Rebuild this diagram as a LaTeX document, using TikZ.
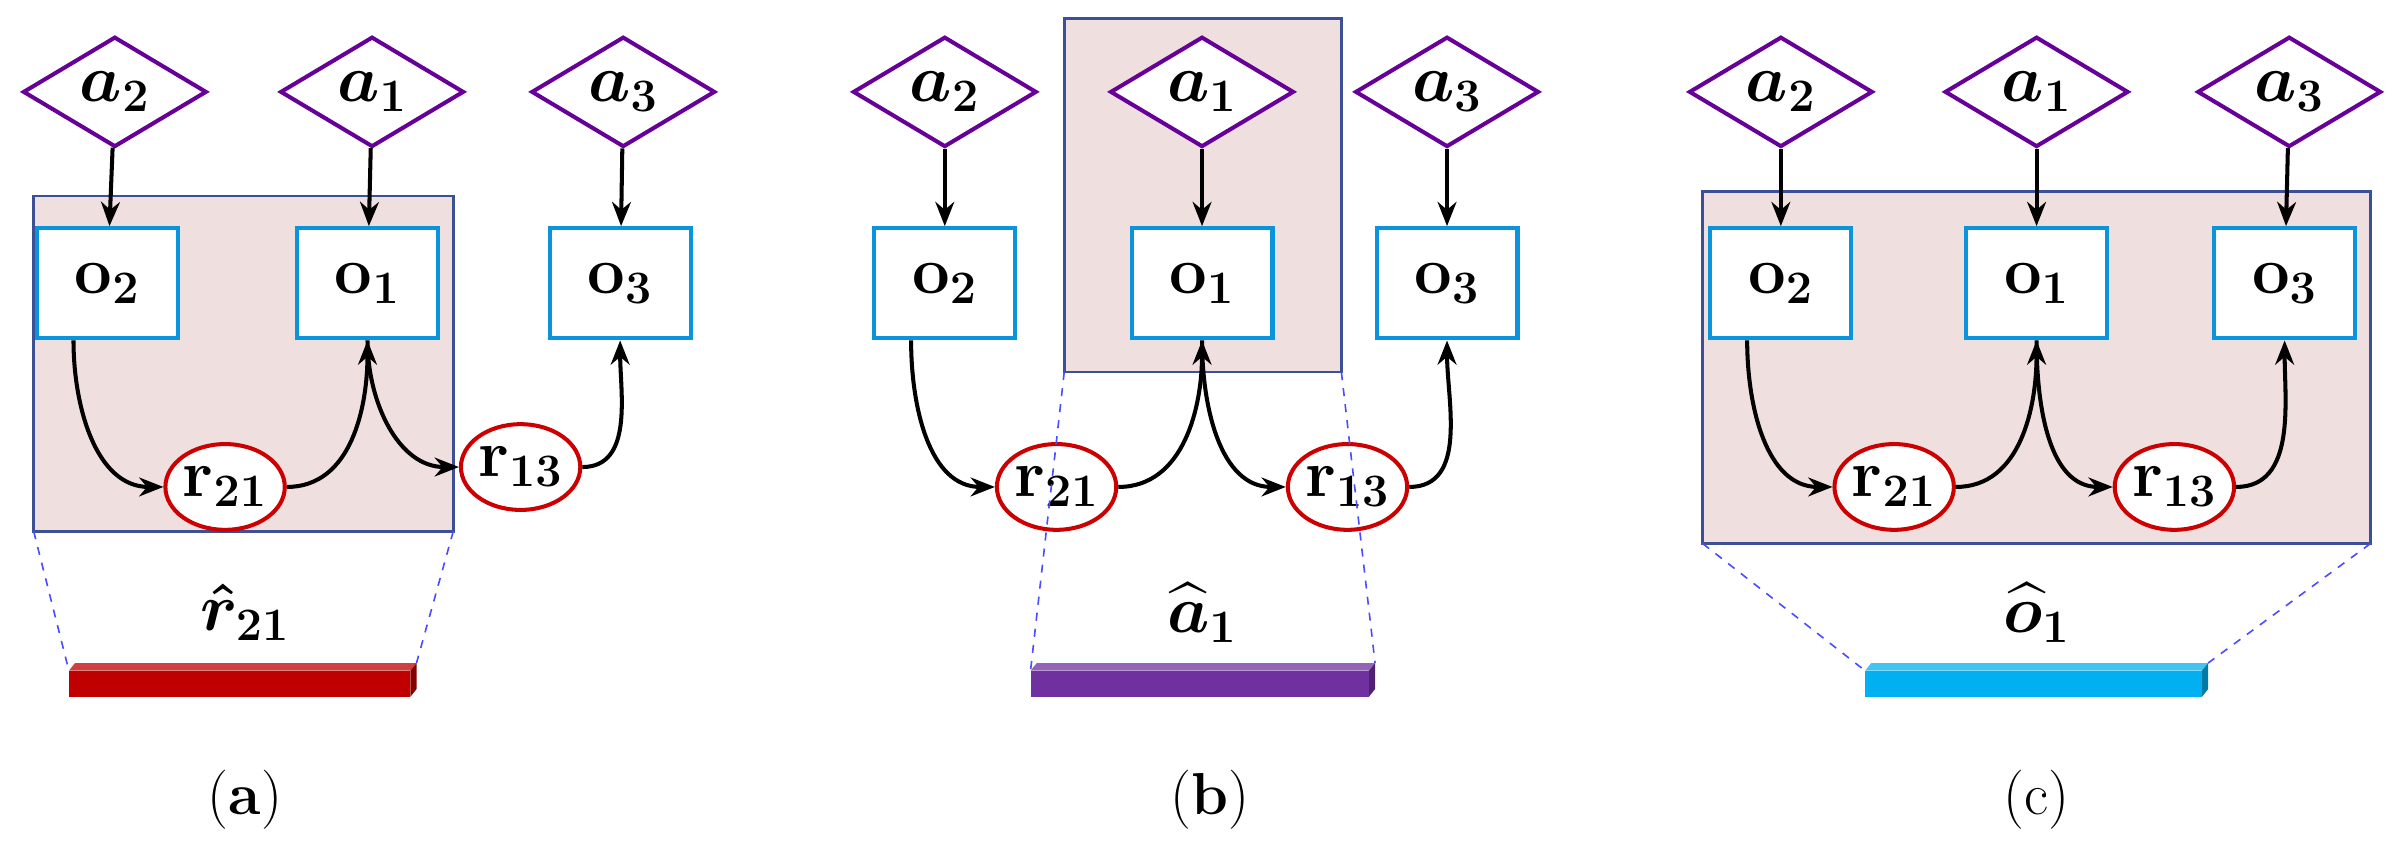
\documentclass[tikz,border=0pt]{standalone}
\usepackage{amsmath,bm}
\usetikzlibrary{shapes.geometric,arrows.meta}
\begin{document}
\begin{tikzpicture}[x=0.02cm,y=-0.02cm,
  big/.style={font=\fontsize{24}{28}\selectfont},
  dia/.style={diamond,draw=violet!80!blue,line width=1.5pt,fill=white,minimum width=120*0.02cm,minimum height=72*0.02cm,inner sep=0pt,aspect=1.7,big},
  box/.style={rectangle,draw=cyan!80!blue,line width=1.5pt,fill=white,minimum width=92*0.02cm,minimum height=72*0.02cm,big},
  ell/.style={ellipse,draw=red!80!black,line width=1.5pt,fill=white,minimum width=76*0.02cm,minimum height=56*0.02cm,inner sep=0pt,big},
  bg/.style={draw={rgb,255:red,60;green,80;blue,150},line width=1pt,fill={rgb,255:red,240;green,223;blue,223}},
  arr/.style={-{Stealth[length=9pt,width=7pt]},line width=1.5pt},
  dsh/.style={dashed,draw=blue!70,line width=0.6pt},
  lab/.style={font=\fontsize{22}{26}\selectfont}]
\useasboundingbox (0,0) rectangle (1568,559);
\definecolor{barR}{RGB}{192,0,0}
\definecolor{barP}{RGB}{112,48,160}
\definecolor{barB}{RGB}{0,176,240}
% ---------- panel a
\draw[bg] (22,128) rectangle (296,347);
\coordinate (aBL) at (22,347); \coordinate (aBR) at (296,347);
\node[dia] (a2a) at (75,60) {$\bm{a}_{\bm{2}}$};
\node[dia] (a1a) at (243,60) {$\bm{a}_{\bm{1}}$};
\node[dia] (a3a) at (407,60) {$\bm{a}_{\bm{3}}$};
\node[box] (o2a) at (70,185) {$\mathbf{o}_{\mathbf{2}}$};
\node[box] (o1a) at (240,185) {$\mathbf{o}_{\mathbf{1}}$};
\node[box] (o3a) at (405,185) {$\mathbf{o}_{\mathbf{3}}$};
\node[ell] (r21a) at (147,318) {$\mathbf{r}_{\mathbf{21}}$};
\node[ell] (r13a) at (340,305) {$\mathbf{r}_{\mathbf{13}}$};
% ---------- panel b
\draw[bg] (695,12) rectangle (876,243);
\coordinate (bBL) at (695,243); \coordinate (bBR) at (876,243);
\node[dia] (a2b) at (617,60) {$\bm{a}_{\bm{2}}$};
\node[dia] (a1b) at (785,60) {$\bm{a}_{\bm{1}}$};
\node[dia] (a3b) at (945,60) {$\bm{a}_{\bm{3}}$};
\node[box] (o2b) at (617,185) {$\mathbf{o}_{\mathbf{2}}$};
\node[box] (o1b) at (785,185) {$\mathbf{o}_{\mathbf{1}}$};
\node[box] (o3b) at (945,185) {$\mathbf{o}_{\mathbf{3}}$};
\node[ell] (r21b) at (690,318) {$\mathbf{r}_{\mathbf{21}}$};
\node[ell] (r13b) at (880,318) {$\mathbf{r}_{\mathbf{13}}$};
% ---------- panel c
\draw[bg] (1112,125) rectangle (1548,355);
\coordinate (cBL) at (1112,355); \coordinate (cBR) at (1548,355);
\node[dia] (a2c) at (1163,60) {$\bm{a}_{\bm{2}}$};
\node[dia] (a1c) at (1330,60) {$\bm{a}_{\bm{1}}$};
\node[dia] (a3c) at (1495,60) {$\bm{a}_{\bm{3}}$};
\node[box] (o2c) at (1163,185) {$\mathbf{o}_{\mathbf{2}}$};
\node[box] (o1c) at (1330,185) {$\mathbf{o}_{\mathbf{1}}$};
\node[box] (o3c) at (1492,185) {$\mathbf{o}_{\mathbf{3}}$};
\node[ell] (r21c) at (1237,318) {$\mathbf{r}_{\mathbf{21}}$};
\node[ell] (r13c) at (1420,318) {$\mathbf{r}_{\mathbf{13}}$};
% arrows
\foreach \p in {a,b,c}{
  \draw[arr] (a2\p) -- (o2\p);
  \draw[arr] (a1\p) -- (o1\p);
  \draw[arr] (a3\p) -- (o3\p);
  \draw[arr] ([xshift=-22*0.02cm]o2\p.south) to[out=-90,in=180] (r21\p.west);
  \draw[arr] (r21\p.east) to[out=0,in=-90] (o1\p.south);
  \draw[arr] (o1\p.south) to[out=-90,in=180] (r13\p.west);
  \draw[arr] (r13\p.east) to[out=0,in=-90] (o3\p.south);
}
% bars
\newcommand{\mybar}[4]{% x1 x2 color name
  \fill[#3!75!white] (#1,438) -- (#1+4,433) -- (#2+4,433) -- (#2,438) -- cycle;
  \fill[#3!70!black] (#2,438) -- (#2+4,433) -- (#2+4,450) -- (#2,455) -- cycle;
  \fill[#3] (#1,438) rectangle (#2,455);
  \coordinate (#4L) at (#1,438); \coordinate (#4R) at (#2+4,433);}
\mybar{45}{268}{barR}{ba}
\mybar{673}{894}{barP}{bb}
\mybar{1218}{1438}{barB}{bc}
\draw[dsh] (aBL) -- (baL); \draw[dsh] (aBR) -- (baR);
\draw[dsh] (bBL) -- (bbL); \draw[dsh] (bBR) -- (bbR);
\draw[dsh] (cBL) -- (bcL); \draw[dsh] (cBR) -- (bcR);
\node[big] (la) at (160,400) {$\bm{\hat{r}}_{\bm{21}}$};
\node[big] (lb) at (785,400) {$\bm{\widehat{a}}_{\bm{1}}$};
\node[big] (lc) at (1330,400) {$\bm{\widehat{o}}_{\bm{1}}$};
\node[lab] (ca) at (160,522) {(\textbf{a})};
\node[lab] (cb) at (790,522) {(\textbf{b})};
\node[lab] (cc) at (1330,522) {(c)};
\end{tikzpicture}
\end{document}
